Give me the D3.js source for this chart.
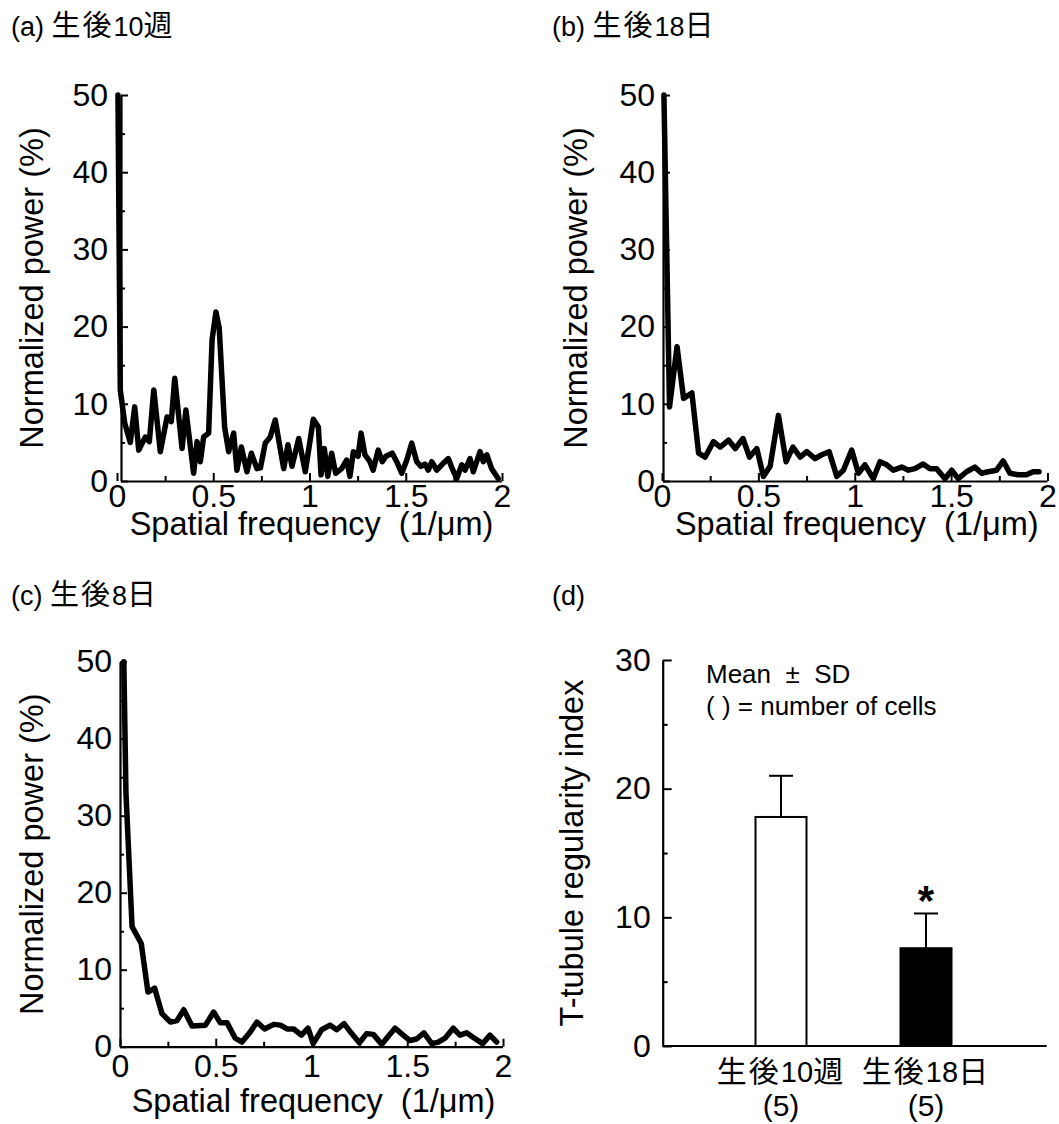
<!DOCTYPE html>
<html><head><meta charset="utf-8">
<script src="https://cdn.jsdelivr.net/npm/d3@7"></script>
<style>
body{margin:0;background:#fff}
svg{display:block}
text{font-family:"Liberation Sans",Arial,"Noto Sans CJK JP",sans-serif;fill:#000;white-space:pre}
</style>
</head><body>
<svg id="chart" width="1059" height="1124"></svg>
<script>
// ---------- data ----------
const freqA = [0.005,0.017,0.040,0.069,0.092,0.113,0.147,0.168,0.191,0.225,0.260,0.282,0.300,0.338,0.358,0.398,0.416,0.433,0.450,0.476,0.494,0.514,0.531,0.559,0.580,0.606,0.623,0.646,0.675,0.698,0.727,0.745,0.770,0.796,0.822,0.866,0.888,0.909,0.944,0.978,1.020,1.046,1.060,1.077,1.095,1.115,1.136,1.167,1.193,1.210,1.228,1.252,1.268,1.288,1.314,1.331,1.357,1.378,1.397,1.430,1.453,1.479,1.505,1.531,1.557,1.579,1.600,1.617,1.635,1.661,1.687,1.721,1.745,1.765,1.791,1.808,1.834,1.851,1.886,1.903,1.921,1.946,1.981];
const powerA = [50,11.8,7.5,5.0,9.6,4.0,5.7,5.1,11.8,3.8,8.3,7.7,13.3,4.2,9.2,1.0,5.1,2.5,5.7,6.2,18.3,21.9,19.8,7.0,3.8,6.2,1.4,4.4,1.2,3.6,1.6,1.7,4.9,5.7,7.9,1.6,4.7,1.9,5.5,1.2,8.0,7.0,0.8,4.2,0.6,3.6,1.0,1.6,2.7,0.6,3.8,3.2,6.2,3.4,2.5,1.4,4.0,2.5,3.2,3.6,2.5,1.0,2.7,4.9,2.5,1.9,2.2,1.4,2.5,1.4,2.1,2.9,1.4,0.3,2.1,1.4,2.9,1.2,3.8,2.5,3.4,1.6,0.3];

const freqB = [0.01,0.039,0.078,0.112,0.155,0.190,0.224,0.267,0.302,0.345,0.380,0.420,0.454,0.492,0.526,0.561,0.604,0.644,0.679,0.717,0.751,0.794,0.829,0.867,0.907,0.941,0.984,1.019,1.053,1.096,1.131,1.166,1.200,1.244,1.278,1.312,1.355,1.390,1.425,1.468,1.503,1.537,1.580,1.623,1.658,1.692,1.736,1.770,1.805,1.848,1.891,1.926,1.956];
const powerB = [50,9.6,17.4,10.7,11.4,3.6,3.1,5.1,4.4,5.3,4.2,5.5,3.1,4.2,0.6,1.9,8.5,2.5,4.4,3.1,3.8,2.9,3.4,3.8,0.6,1.4,4.0,1.0,2.1,0.3,2.5,2.1,1.4,1.8,1.4,1.6,2.2,1.6,1.6,0.3,1.4,0.3,1.2,1.8,1.0,1.2,1.4,2.6,1.0,0.8,0.8,1.2,1.2];

const freqC = [0.02,0.031,0.063,0.111,0.146,0.181,0.219,0.263,0.298,0.333,0.376,0.446,0.489,0.524,0.559,0.602,0.637,0.68,0.715,0.755,0.803,0.838,0.872,0.907,0.947,0.982,1.009,1.053,1.097,1.132,1.170,1.210,1.25,1.288,1.323,1.367,1.399,1.436,1.479,1.514,1.549,1.587,1.628,1.662,1.697,1.740,1.775,1.810,1.845,1.894,1.932,1.967];
const powerC = [50,33,15.6,13.4,7.1,7.6,4.3,3.2,3.4,4.8,2.7,2.8,4.5,3.1,3.1,1.1,0.6,1.9,3.2,2.3,2.9,2.8,2.3,2.3,1.5,2.4,0.4,2.2,2.8,2.2,3.0,1.7,0.5,1.7,1.6,0.3,1.3,2.4,1.5,0.8,1.0,1.8,0.4,0.6,1.1,2.4,1.5,1.8,1.2,0.4,1.5,0.6];

const xTicksMajor = [0,0.5,1,1.5,2];
const xTickLabels = ["0","0.5","1","1.5","2"];
const xTicksMinor = [0.25,0.75,1.25,1.75];
const yTicksMajor = [0,10,20,30,40,50];
const yTicksMinor = [5,15,25,35,45];

const panelTitles = ["(a) 生後10週","(b) 生後18日","(c) 生後8日","(d)"];
const xAxisTitle = "Spatial frequency  (1/μm)";
const yAxisTitle = "Normalized power (%)";

const barCategories = ["生後10週","生後18日"];
const barCounts = ["(5)","(5)"];
const barMeans = [17.8, 7.6];
const barSDs = [3.2, 2.7];
const barFills = ["#ffffff","#000000"];
const barYTicksMajor = [0,10,20,30];
const barYTicksMinor = [5,15,25];
const barYTitle = "T-tubule regularity index";
const legendLines = ["Mean\u00a0 ±\u00a0 SD","( ) = number of cells"];

// ---------- helpers ----------
const svg = d3.select("#chart");
const CJK = /[\u3000-\u9fff]/;
function mixedText(sel, str, latin, cjk){
  sel.attr("font-size", latin);
  (str.match(/[\u3000-\u9fff]+|[^\u3000-\u9fff]+/g) || []).forEach(p=>{
    const t = sel.append("tspan").text(p);
    if (CJK.test(p)) t.attr("font-size", cjk).attr("font-family","'Noto Sans CJK JP',sans-serif").attr("letter-spacing",2);
  });
  return sel;
}
function styleAxis(g){
  g.selectAll("path.domain").attr("stroke","#000").attr("stroke-width",2.2);
  g.selectAll(".tick line").attr("stroke","#000").attr("stroke-width",2);
  g.attr("font-family",null).attr("font-size",null);
}
const TICK_FS = 32, TITLE_FS = 32.5;

// ---------- line panels ----------
function linePanel(cfg, freq, power){
  const x = d3.scaleLinear().domain([0,2]).range([cfg.left, cfg.right]);
  const y = d3.scaleLinear().domain([0,50]).range([cfg.bottom, cfg.top]);
  const g = svg.append("g");
  const ax = x(0) + cfg.axOff;

  const ya = g.append("g").attr("transform",`translate(${ax},0)`)
    .call(d3.axisRight(y).tickValues(yTicksMajor).tickSize(7).tickSizeOuter(0).tickFormat(""));
  styleAxis(ya);
  const ym = g.append("g").attr("transform",`translate(${ax},0)`)
    .call(d3.axisRight(y).tickValues(yTicksMinor).tickSize(4).tickFormat(""));
  ym.select("path.domain").remove(); styleAxis(ym);
  const yl = g.append("g").attr("transform",`translate(${ax},0)`)
    .call(d3.axisLeft(y).tickValues(yTicksMajor).tickSize(0).tickPadding(cfg.yPad));
  yl.select("path.domain").remove();
  yl.selectAll("text").attr("font-size",TICK_FS).attr("font-family",null);
  yl.attr("font-family",null).attr("font-size",null);

  const xa = g.append("g").attr("transform",`translate(0,${y(0)})`)
    .call(d3.axisTop(x).tickValues(xTicksMajor).tickSize(8).tickSizeOuter(0).tickFormat(""));
  styleAxis(xa);
  xa.select("path.domain").attr("d",`M${ax},0.5H${x(2)}`);
  const xm = g.append("g").attr("transform",`translate(0,${y(0)})`)
    .call(d3.axisTop(x).tickValues(xTicksMinor).tickSize(5).tickFormat(""));
  xm.select("path.domain").remove(); styleAxis(xm);
  const xl = g.append("g").attr("transform",`translate(0,${y(0)})`)
    .call(d3.axisBottom(x).tickValues(xTicksMajor).tickSize(0).tickPadding(cfg.xPad).tickFormat((d,i)=>xTickLabels[i]));
  xl.select("path.domain").remove();
  xl.selectAll("text").attr("font-size",TICK_FS).attr("font-family",null);
  xl.attr("font-family",null).attr("font-size",null);

  const pts = freq.map((f,i)=>[f,power[i]]);
  g.append("path").datum(pts)
    .attr("fill","none").attr("stroke","#000").attr("stroke-width",5.5)
    .attr("stroke-linejoin","round").attr("stroke-linecap","round")
    .attr("d", d3.line().x(d=>x(d[0])).y(d=>y(d[1])));

  g.append("text").attr("x",(x(0)+x(2))/2 + 2).attr("y",cfg.xTitleY)
    .attr("text-anchor","middle").attr("font-size",TITLE_FS).text(xAxisTitle);
  g.append("text").attr("transform",`translate(${cfg.yTitleX},${(y(0)+y(50))/2}) rotate(-90)`)
    .attr("text-anchor","middle").attr("dy","0.35em").attr("font-size",TITLE_FS).text(yAxisTitle);
}

linePanel({left:117,right:502,top:95,bottom:481,axOff:4,yPad:13,xPad:3,xTitleY:535,yTitleX:32}, freqA, powerA);
linePanel({left:662,right:1047.5,top:95,bottom:481,axOff:1,yPad:8,xPad:3,xTitleY:535,yTitleX:576}, freqB, powerB);
linePanel({left:120,right:503,top:661.7,bottom:1046.7,axOff:0,yPad:8,xPad:8,xTitleY:1112,yTitleX:32}, freqC, powerC);

// ---------- panel titles ----------
const titlePos = [[11,36],[552,36],[11,605],[552,605]];
panelTitles.forEach((t,i)=>{
  mixedText(svg.append("text").attr("x",titlePos[i][0]).attr("y",titlePos[i][1]), t, 27, 29);
});

// ---------- bar panel ----------
(function(){
  const y = d3.scaleLinear().domain([0,30]).range([1046,660]);
  const x = d3.scalePoint().domain(barCategories).range([781,926]);
  const axX = 662.7, right = 1046.7, barW = 51;
  const g = svg.append("g");

  const ya = g.append("g").attr("transform",`translate(${axX},0)`)
    .call(d3.axisRight(y).tickValues(barYTicksMajor).tickSize(9).tickSizeOuter(0).tickFormat(""));
  styleAxis(ya);
  const ym = g.append("g").attr("transform",`translate(${axX},0)`)
    .call(d3.axisRight(y).tickValues(barYTicksMinor).tickSize(5).tickFormat(""));
  ym.select("path.domain").remove(); styleAxis(ym);
  const yl = g.append("g").attr("transform",`translate(${axX},0)`)
    .call(d3.axisLeft(y).tickValues(barYTicksMajor).tickSize(0).tickPadding(12));
  yl.select("path.domain").remove();
  yl.selectAll("text").attr("font-size",TICK_FS).attr("font-family",null);
  yl.attr("font-family",null).attr("font-size",null);

  barCategories.forEach((c,i)=>{
    const cx = x(c);
    g.append("line").attr("x1",cx).attr("x2",cx).attr("y1",y(barMeans[i])).attr("y2",y(barMeans[i]+barSDs[i]))
      .attr("stroke","#000").attr("stroke-width",2);
    g.append("line").attr("x1",cx-12).attr("x2",cx+12).attr("y1",y(barMeans[i]+barSDs[i])).attr("y2",y(barMeans[i]+barSDs[i]))
      .attr("stroke","#000").attr("stroke-width",2);
  });
  g.selectAll("rect.bar").data(barCategories).enter().append("rect")
    .attr("x",d=>x(d)-barW/2).attr("width",barW)
    .attr("y",(d,i)=>y(barMeans[i])).attr("height",(d,i)=>y(0)-y(barMeans[i]))
    .attr("fill",(d,i)=>barFills[i]).attr("stroke","#000").attr("stroke-width",2);

  g.append("line").attr("x1",axX).attr("x2",right).attr("y1",y(0)).attr("y2",y(0))
    .attr("stroke","#000").attr("stroke-width",2.2);

  g.append("text").attr("x",x(barCategories[1])).attr("y",y(barMeans[1]+barSDs[1])+2)
    .attr("text-anchor","middle").attr("font-size",42).attr("font-weight","bold").text("*");

  barCategories.forEach((c,i)=>{
    mixedText(g.append("text").attr("x",x(c)).attr("y",1082).attr("text-anchor","middle"), c, 29, 30);
    g.append("text").attr("x",x(c)).attr("y",1116).attr("text-anchor","middle").attr("font-size",30).text(barCounts[i]);
  });

  legendLines.forEach((t,i)=>{
    g.append("text").attr("x",706).attr("y",683+i*32).attr("font-size",26).text(t);
  });

  g.append("text").attr("transform",`translate(572,${(y(0)+y(30))/2}) rotate(-90)`)
    .attr("text-anchor","middle").attr("dy","0.35em").attr("font-size",TITLE_FS).text(barYTitle);
})();
</script>
</body></html>
